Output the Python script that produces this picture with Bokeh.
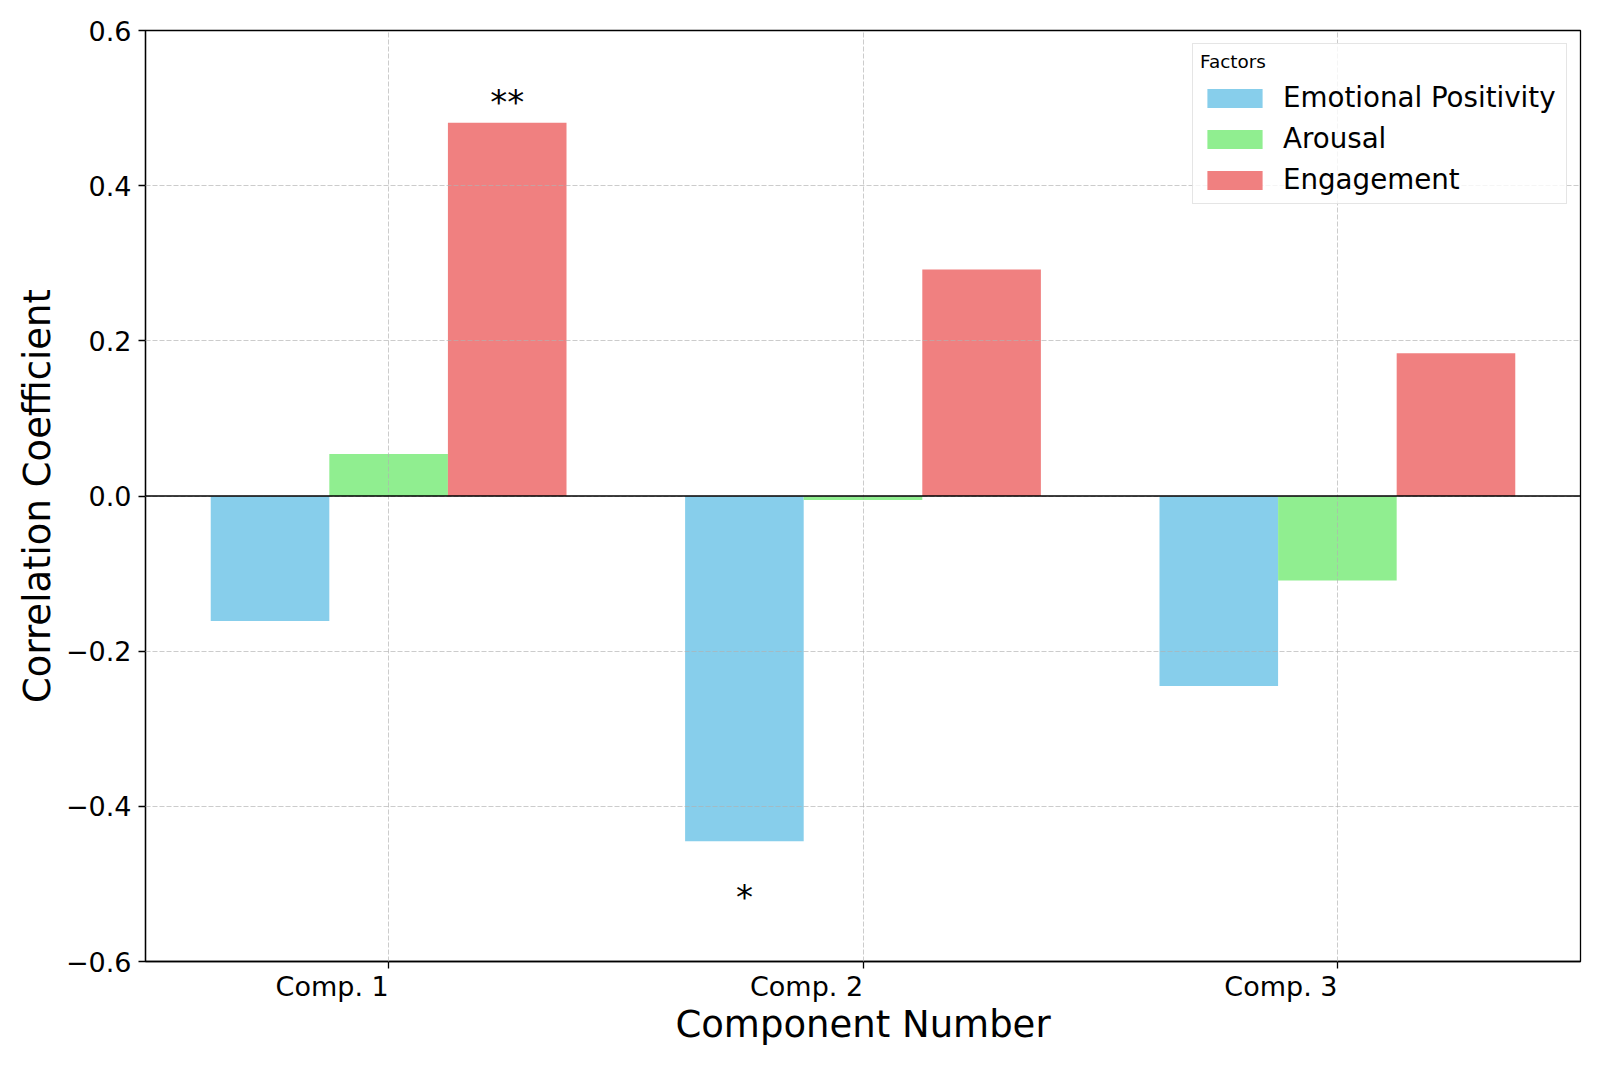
from bokeh.plotting import figure
from bokeh.models import Range1d, FixedTicker, Span, ColumnDataSource
from bokeh.core.properties import value
from bokeh.embed import file_html
from bokeh.resources import INLINE

# ---------------- data ----------------
components = ["Comp. 1", "Comp. 2", "Comp. 3"]
factors = ["Emotional Positivity", "Arousal", "Engagement"]
emotional_positivity = [-0.161, -0.445, -0.245]
arousal = [0.054, -0.005, -0.109]
engagement = [0.481, 0.292, 0.184]
sig_emotional_positivity = ["", "*", ""]
sig_arousal = ["", "", ""]
sig_engagement = ["**", "", ""]
y_ticks = [-0.6, -0.4, -0.2, 0.0, 0.2, 0.4, 0.6]

# ---------------- style ----------------
FONT = "DejaVu Sans"
colors = ["#87CEEB", "#90EE90", "#F08080"]
bar_w = 0.25
offsets = [-0.25, 0.0, 0.25]
label_shift = 0.119  # tick labels are right-aligned at their tick

series = [emotional_positivity, arousal, engagement]
sigs = [sig_emotional_positivity, sig_arousal, sig_engagement]
xs = list(range(len(components)))

p = figure(
    frame_width=1435, frame_height=931,
    x_range=Range1d(-0.5125, 2.5125), y_range=Range1d(-0.6, 0.6),
    output_backend="svg", toolbar_location=None,
    min_border_left=145, min_border_top=30, min_border_right=12, min_border_bottom=96,
    background_fill_color="white", border_fill_color="white",
)
p.outline_line_color = "black"
p.outline_line_width = 1.3
p.outline_line_alpha = 1.0

# bars
for name, vals, col, off in zip(factors, series, colors, offsets):
    src = ColumnDataSource(dict(x=[x + off for x in xs], top=vals))
    p.vbar(x="x", top="top", bottom=0, width=bar_w, source=src,
           fill_color=col, line_color=None, legend_label=name)

# significance markers
ax, ay, at, aoff = [], [], [], []
for vals, sg, off in zip(series, sigs, offsets):
    for x, v, s in zip(xs, vals, sg):
        if s:
            ax.append(x + off)
            ay.append(v)
            at.append(s)
            aoff.append(-21 if v >= 0 else 56)
p.text(x="x", y="y", text="text", y_offset="yo",
       source=ColumnDataSource(dict(x=ax, y=ay, text=at, yo=aoff)),
       text_font=value(FONT), text_font_size=value("34px"),
       text_align="center", text_baseline="middle", text_color="black")

# zero line
p.add_layout(Span(location=0, dimension="width", line_color="black", line_width=1.6))

# grid
p.grid.grid_line_color = "#b0b0b0"
p.grid.grid_line_alpha = 0.65
p.grid.grid_line_dash = "5 2"
p.grid.grid_line_width = 1
p.grid.level = "guide"
p.xgrid.ticker = FixedTicker(ticks=xs)

# x axis: labels at shifted positions (right-aligned look), tick marks at groups
xa = p.xaxis[0]
label_pos = [x - label_shift for x in xs]
xa.ticker = FixedTicker(ticks=label_pos, minor_ticks=xs)
xa.major_label_overrides = {lp: c for lp, c in zip(label_pos, components)}
xa.major_label_text_font = FONT
xa.major_label_text_font_size = "27px"
xa.major_label_text_color = "black"
xa.major_label_standoff = 2
xa.major_tick_line_color = None
xa.major_tick_out = 7
xa.major_tick_in = 0
xa.minor_tick_line_color = "black"
xa.minor_tick_line_width = 1.3
xa.minor_tick_out = 7
xa.minor_tick_in = 0
xa.axis_line_width = 1.3
xa.axis_label = "Component Number"
xa.axis_label_text_font = FONT
xa.axis_label_text_font_size = "37px"
xa.axis_label_text_font_style = "normal"
xa.axis_label_text_color = "black"
xa.axis_label_standoff = -2

# y axis
ya = p.yaxis[0]
ya.ticker = FixedTicker(ticks=y_ticks)
ya.major_label_overrides = {t: f"{t:.1f}".replace("-", "\u2212") for t in y_ticks}
ya.major_label_text_font = FONT
ya.major_label_text_font_size = "27px"
ya.major_label_text_color = "black"
ya.major_label_standoff = 7
ya.major_tick_out = 7
ya.major_tick_in = 0
ya.minor_tick_line_color = None
ya.axis_line_width = 1.3
ya.major_tick_line_width = 1.3
ya.axis_label = "Correlation Coefficient"
ya.axis_label_text_font = FONT
ya.axis_label_text_font_size = "37px"
ya.axis_label_text_font_style = "normal"
ya.axis_label_text_color = "black"
ya.axis_label_standoff = 4

# legend
lg = p.legend[0]
lg.location = "top_right"
lg.title = "Factors"
lg.title_text_font = FONT
lg.title_text_font_size = "18.4px"
lg.title_text_font_style = "normal"
lg.title_text_color = "black"
lg.title_standoff = 9
lg.label_text_font = FONT
lg.label_text_font_size = "27.7px"
lg.label_text_color = "black"
lg.glyph_width = 69
lg.glyph_height = 24
lg.label_standoff = 14
lg.label_width = 276
lg.spacing = 8
lg.padding = 7
lg.margin = 13
lg.border_line_color = "#cccccc"
lg.border_line_width = 1.3
lg.background_fill_color = "white"
lg.background_fill_alpha = 0.8

open("out.html", "w").write(file_html(p, INLINE))
